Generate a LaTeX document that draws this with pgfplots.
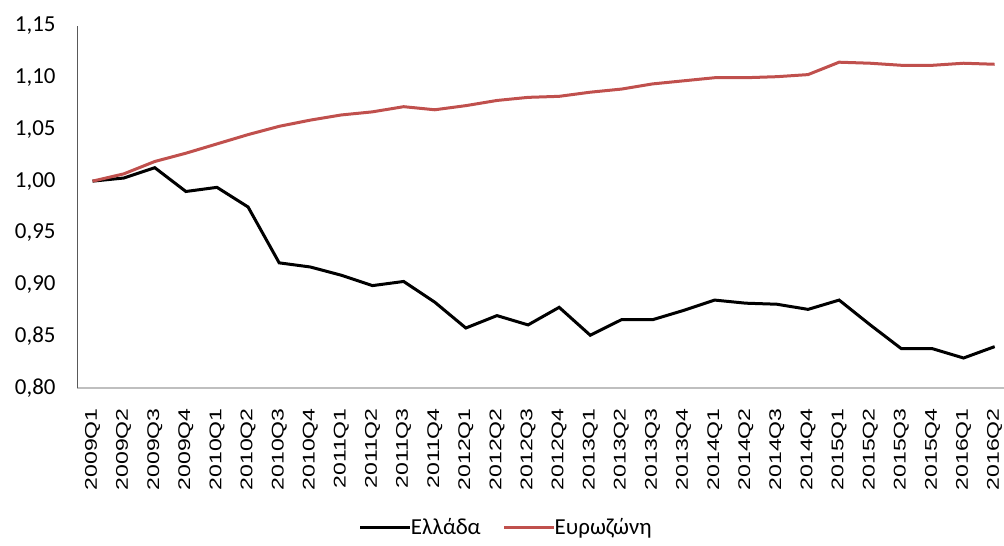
\documentclass[border=0pt]{standalone}
\usepackage{fontspec}
\setmainfont{Carlito}
\newfontfamily\arialfont{Liberation Sans}
\usepackage{pgfplots}
\pgfplotsset{compat=1.18}

\definecolor{ezred}{RGB}{192,80,77}
\definecolor{axgray}{RGB}{191,191,191}
\definecolor{yaxgray}{RGB}{89,89,89}

\begin{document}
\begin{tikzpicture}
\path[use as bounding box] (-77bp,-158bp) rectangle (927bp,388bp);
\begin{axis}[
  at={(0,0)}, anchor=south west,
  scale only axis, width=927bp, height=362bp,
  xmin=-0.5, xmax=29.3, ymin=0.80, ymax=1.15,
  axis x line*=bottom, axis y line*=left,
  x axis line style={axgray, line width=1.5bp},
  y axis line style={yaxgray, line width=1bp},
  major tick length=0pt,
  xtick={0,...,29},
  xticklabels={2009Q1,2009Q2,2009Q3,2009Q4,2010Q1,2010Q2,2010Q3,2010Q4,
    2011Q1,2011Q2,2011Q3,2011Q4,2012Q1,2012Q2,2012Q3,2012Q4,
    2013Q1,2013Q2,2013Q3,2013Q4,2014Q1,2014Q2,2014Q3,2014Q4,
    2015Q1,2015Q2,2015Q3,2015Q4,2016Q1,2016Q2},
  xticklabel style={yshift=-20bp, rotate=90, xscale=1.36, anchor=east,
    inner sep=0pt, font=\arialfont\fontsize{17}{17}\selectfont},
  ytick={0.80,0.85,0.90,0.95,1.00,1.05,1.10,1.15},
  yticklabel style={xshift=-18bp, font=\fontsize{23}{23}\selectfont,
    /pgf/number format/.cd, fixed, fixed zerofill, precision=2, use comma,
    assume math mode=true},
  legend style={at={(0.463,-0.385)}, anchor=center, draw=none,
    legend columns=2, font=\fontsize{23}{23}\selectfont,
    inner sep=0pt,
    /tikz/every even column/.append style={column sep=20bp},
    /tikz/every odd column/.append style={column sep=-3bp}},
  legend image code/.code={\draw[#1] (0bp,0bp) -- (50bp,0bp);},
]
% Ελλάδα
\addplot[black, line width=3bp] coordinates {
  (0,1.000) (1,1.003) (2,1.013) (3,0.990) (4,0.994) (5,0.975)
  (6,0.921) (7,0.917) (8,0.909) (9,0.899) (10,0.903) (11,0.883)
  (12,0.858) (13,0.870) (14,0.861) (15,0.878) (16,0.851) (17,0.866)
  (18,0.866) (19,0.875) (20,0.885) (21,0.882) (22,0.881) (23,0.876)
  (24,0.885) (25,0.861) (26,0.838) (27,0.838) (28,0.829) (29,0.840)};
\addlegendentry{Ελλάδα}
% Ευρωζώνη
\addplot[ezred, line width=3bp] coordinates {
  (0,1.000) (1,1.007) (2,1.019) (3,1.027) (4,1.036) (5,1.045)
  (6,1.053) (7,1.059) (8,1.064) (9,1.067) (10,1.072) (11,1.069)
  (12,1.073) (13,1.078) (14,1.081) (15,1.082) (16,1.086) (17,1.089)
  (18,1.094) (19,1.097) (20,1.100) (21,1.100) (22,1.101) (23,1.103)
  (24,1.115) (25,1.114) (26,1.112) (27,1.112) (28,1.114) (29,1.113)};
\addlegendentry{Ευρωζώνη}
\end{axis}
\end{tikzpicture}
\end{document}
